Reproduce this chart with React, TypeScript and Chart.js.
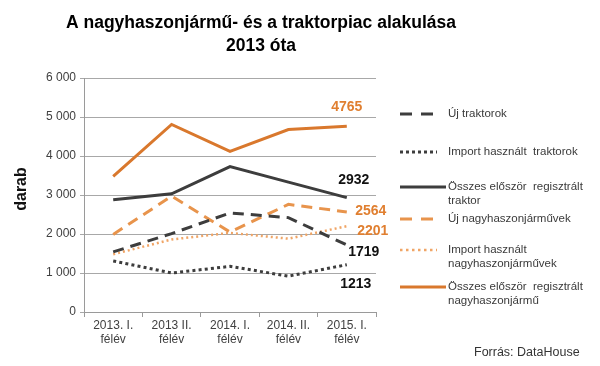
import React, { useEffect, useRef } from "react";
import { Chart, registerables } from "chart.js";

Chart.register(...registerables);

const categories: string[][] = [
  ["2013. I.", "félév"],
  ["2013 II.", "félév"],
  ["2014. I.", "félév"],
  ["2014. II.", "félév"],
  ["2015. I.", "félév"],
];

const ujTraktorok = [1540, 2010, 2540, 2420, 1719];
const importTraktorok = [1310, 1000, 1170, 920, 1213];
const osszesTraktor = [2880, 3030, 3730, 3330, 2932];
const ujNagyhaszon = [1990, 2970, 2050, 2760, 2564];
const importNagyhaszon = [1480, 1860, 2030, 1880, 2201];
const osszesNagyhaszon = [3480, 4810, 4120, 4680, 4765];

const yTicks = [0, 1000, 2000, 3000, 4000, 5000, 6000];

const titleLines = ["A nagyhaszonjármű- és a traktorpiac alakulása", "2013 óta"];
const yTitle = "darab";
const source = "Forrás: DataHouse";

const legendLabels: string[][] = [
  ["Új traktorok"],
  ["Import használt  traktorok"],
  ["Összes először  regisztrált", "traktor"],
  ["Új nagyhaszonjárművek"],
  ["Import használt", "nagyhaszonjárművek"],
  ["Összes először  regisztrált", "nagyhaszonjármű"],
];

const DARK = "#3d3d3d";
const ORANGE = "#d9782d";
const ORANGE_DASH = "#e8944c";
const ORANGE_DOT = "#f0a566";
const FONT = "'Liberation Sans', Arial, sans-serif";

function fmt(v: number): string {
  if (v < 1000) return String(v);
  return `${Math.floor(v / 1000)} ${String(v % 1000).padStart(3, "0")}`;
}

export default function App() {
  const ref = useRef<HTMLCanvasElement | null>(null);

  useEffect(() => {
    document.body.style.margin = "0";
    const canvas = ref.current;
    if (!canvas) return;

    const styles = [
      { color: DARK, dash: [11, 7], width: 3, lab: { dx: 17, dy: 7 }, legY: 114, legDash: [12, 9], legEnd: 433 },
      { color: DARK, dash: [3, 3.2], width: 3, lab: { dx: 9, dy: 19 }, legY: 152, legDash: [3, 3], legEnd: 437 },
      { color: DARK, dash: [], width: 3, lab: { dx: 7, dy: -18 }, legY: 187, legDash: [], legEnd: 446 },
      { color: ORANGE_DASH, dash: [11, 7], width: 3, lab: { dx: 24, dy: -1 }, legY: 219, legDash: [12, 9], legEnd: 433 },
      { color: ORANGE_DOT, dash: [2, 3], width: 2.5, lab: { dx: 26, dy: 5 }, legY: 250, legDash: [2.5, 3.5], legEnd: 437 },
      { color: ORANGE, dash: [], width: 3, lab: { dx: 0, dy: -19 }, legY: 287, legDash: [], legEnd: 446 },
    ];
    const seriesData = [ujTraktorok, importTraktorok, osszesTraktor, ujNagyhaszon, importNagyhaszon, osszesNagyhaszon];

    const decor = {
      id: "decor",
      afterDatasetsDraw(chart: any) {
        const ctx = chart.ctx;
        ctx.save();
        ctx.font = `bold 14px ${FONT}`;
        ctx.textAlign = "center";
        ctx.textBaseline = "middle";
        chart.data.datasets.forEach((ds: any, i: number) => {
          const meta = chart.getDatasetMeta(i);
          const pt = meta.data[meta.data.length - 1];
          const v = ds.data[ds.data.length - 1];
          ctx.fillStyle = i < 3 ? "#111" : "#e07f30";
          ctx.fillText(String(v), pt.x + styles[i].lab.dx, pt.y + styles[i].lab.dy);
        });
        ctx.restore();
      },
      afterDraw(chart: any) {
        const ctx = chart.ctx;
        ctx.save();
        ctx.fillStyle = "#000";
        ctx.font = `bold 17.5px ${FONT}`;
        ctx.textAlign = "center";
        ctx.textBaseline = "middle";
        ctx.fillText(titleLines[0], 261, 23);
        ctx.fillText(titleLines[1], 261, 46);
        ctx.save();
        ctx.translate(22, 189);
        ctx.rotate(-Math.PI / 2);
        ctx.font = `bold 16px ${FONT}`;
        ctx.fillStyle = "#111";
        ctx.fillText(yTitle, 0, 0);
        ctx.restore();
        ctx.textAlign = "left";
        ctx.font = `11.5px ${FONT}`;
        legendLabels.forEach((lines, i) => {
          const s = styles[i];
          ctx.beginPath();
          ctx.strokeStyle = s.color;
          ctx.lineWidth = s.width;
          ctx.setLineDash(s.legDash);
          ctx.moveTo(400, s.legY);
          ctx.lineTo(s.legEnd, s.legY);
          ctx.stroke();
          ctx.setLineDash([]);
          ctx.fillStyle = "#3a3a3a";
          lines.forEach((t, j) => ctx.fillText(t, 448, s.legY + j * 13.5));
        });
        ctx.font = `12.5px ${FONT}`;
        ctx.fillStyle = "#333";
        ctx.fillText(source, 474, 353);
        ctx.restore();
      },
    };

    const chart = new Chart(canvas, {
      type: "line",
      data: {
        labels: categories,
        datasets: seriesData.map((d, i) => ({
          label: legendLabels[i].join(" "),
          data: d,
          borderColor: styles[i].color,
          borderWidth: styles[i].width,
          borderDash: styles[i].dash,
          pointRadius: 0,
          tension: 0,
          fill: false,
        })),
      },
      options: {
        animation: false,
        responsive: false,
        maintainAspectRatio: false,
        layout: { padding: { top: 78, right: 224, bottom: 0, left: 0 } },
        plugins: {
          legend: { display: false },
          title: { display: false },
          tooltip: { enabled: false },
        },
        scales: {
          x: {
            offset: true,
            grid: { display: true, drawOnChartArea: false, offset: true, tickLength: 5, color: "#9a9a9a" },
            border: { color: "#9a9a9a" },
            ticks: { color: "#404040", font: { size: 12, family: FONT }, padding: 1, maxRotation: 0, autoSkip: false },
            afterFit(scale: any) {
              scale.height = 54;
            },
          },
          y: {
            min: 0,
            max: 6000,
            afterBuildTicks(scale: any) {
              scale.ticks = yTicks.map((v) => ({ value: v }));
            },
            grid: { color: "#a8a8a8", tickLength: 4, lineWidth: 1 },
            border: { color: "#9a9a9a" },
            ticks: {
              color: "#404040",
              font: { size: 12, family: FONT },
              padding: 4,
              callback: (v: any) => fmt(Number(v)),
            },
            afterFit(scale: any) {
              scale.width = 84;
            },
          },
        },
      },
      plugins: [decor],
    });

    return () => chart.destroy();
  }, []);

  return <canvas ref={ref} width={600} height={366} style={{ display: "block", width: 600, height: 366 }} />;
}
